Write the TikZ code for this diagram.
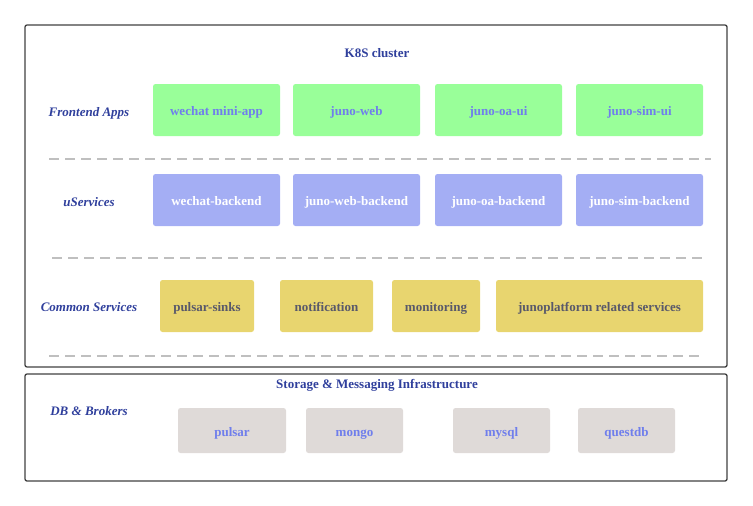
\documentclass[tikz,border=0pt]{standalone}
\usepackage{fontspec}
\setmainfont{Liberation Serif}
\begin{document}
\begin{tikzpicture}[x=1pt,y=-1pt,
  font=\fontsize{13}{15}\selectfont\bfseries,
  frame/.style={draw=black!75,line width=1.3pt,rounded corners=2pt},
  cell/.style={rounded corners=2.5pt,inner sep=0pt,text height=9pt,text depth=3pt},
  celltext/.style={yshift=-2.8pt},
  fe/.style={cell,fill=green1,text=txtblue},
  us/.style={cell,fill=blue1,text=white},
  cs/.style={cell,fill=yellow1,text=txtgray},
  db/.style={cell,fill=gray1,text=txtblue},
  rowlabel/.style={text=lblblue,text height=9pt,text depth=3pt,font=\fontsize{13}{15}\selectfont\bfseries\itshape},
  title/.style={text=lblblue,text height=9pt,text depth=3pt},
  sep/.style={draw=black!25,line width=1.3pt,dash pattern=on 10pt off 6pt}]
\definecolor{green1}{HTML}{99FF99}
\definecolor{blue1}{HTML}{A4AEF4}
\definecolor{yellow1}{HTML}{E8D56F}
\definecolor{gray1}{HTML}{DFDAD8}
\definecolor{txtblue}{HTML}{6F7EEC}
\definecolor{txtgray}{HTML}{59596A}
\definecolor{lblblue}{HTML}{2F3F9C}
\useasboundingbox (0,0) rectangle (753,506);
\draw[frame] (25,25) rectangle (727,367);
\draw[frame] (25,374) rectangle (727,481);
\node[title] (k8s) at (377,54) {K8S cluster};
\node[title] (stor) at (377,385) {Storage \& Messaging Infrastructure};
\node[rowlabel] (lfe) at (89,113) {Frontend Apps};
\node[rowlabel] (lus) at (89,203) {uServices};
\node[rowlabel] (lcs) at (89,308) {Common Services};
\node[rowlabel] (ldb) at (89,412) {DB \& Brokers};
% frontend
\path[fe] (153,84) rectangle (280,136) node[midway,celltext] (f1) {wechat mini-app};
\path[fe] (293,84) rectangle (420,136) node[midway,celltext] (f2) {juno-web};
\path[fe] (435,84) rectangle (562,136) node[midway,celltext] (f3) {juno-oa-ui};
\path[fe] (576,84) rectangle (703,136) node[midway,celltext] (f4) {juno-sim-ui};
% uservices
\path[us] (153,174) rectangle (280,226) node[midway,celltext] (u1) {wechat-backend};
\path[us] (293,174) rectangle (420,226) node[midway,celltext] (u2) {juno-web-backend};
\path[us] (435,174) rectangle (562,226) node[midway,celltext] (u3) {juno-oa-backend};
\path[us] (576,174) rectangle (703,226) node[midway,celltext] (u4) {juno-sim-backend};
% common
\path[cs] (160,280) rectangle (254,332) node[midway,celltext] (c1) {pulsar-sinks};
\path[cs] (280,280) rectangle (373,332) node[midway,celltext] (c2) {notification};
\path[cs] (392,280) rectangle (480,332) node[midway,celltext] (c3) {monitoring};
\path[cs] (496,280) rectangle (703,332) node[midway,celltext] (c4) {junoplatform related services};
% db
\path[db] (178,408) rectangle (286,453) node[midway,celltext] (d1) {pulsar};
\path[db] (306,408) rectangle (403,453) node[midway,celltext] (d2) {mongo};
\path[db] (453,408) rectangle (550,453) node[midway,celltext] (d3) {mysql};
\path[db] (578,408) rectangle (675,453) node[midway,celltext] (d4) {questdb};
% separators
\coordinate (s1a) at (49,159); \coordinate (s1b) at (711,159);
\coordinate (s2a) at (52,258); \coordinate (s2b) at (708,258);
\coordinate (s3a) at (49,356); \coordinate (s3b) at (700,356);
\draw[sep] (s1a) -- (s1b);
\draw[sep] (s2a) -- (s2b);
\draw[sep] (s3a) -- (s3b);
\end{tikzpicture}
\end{document}
